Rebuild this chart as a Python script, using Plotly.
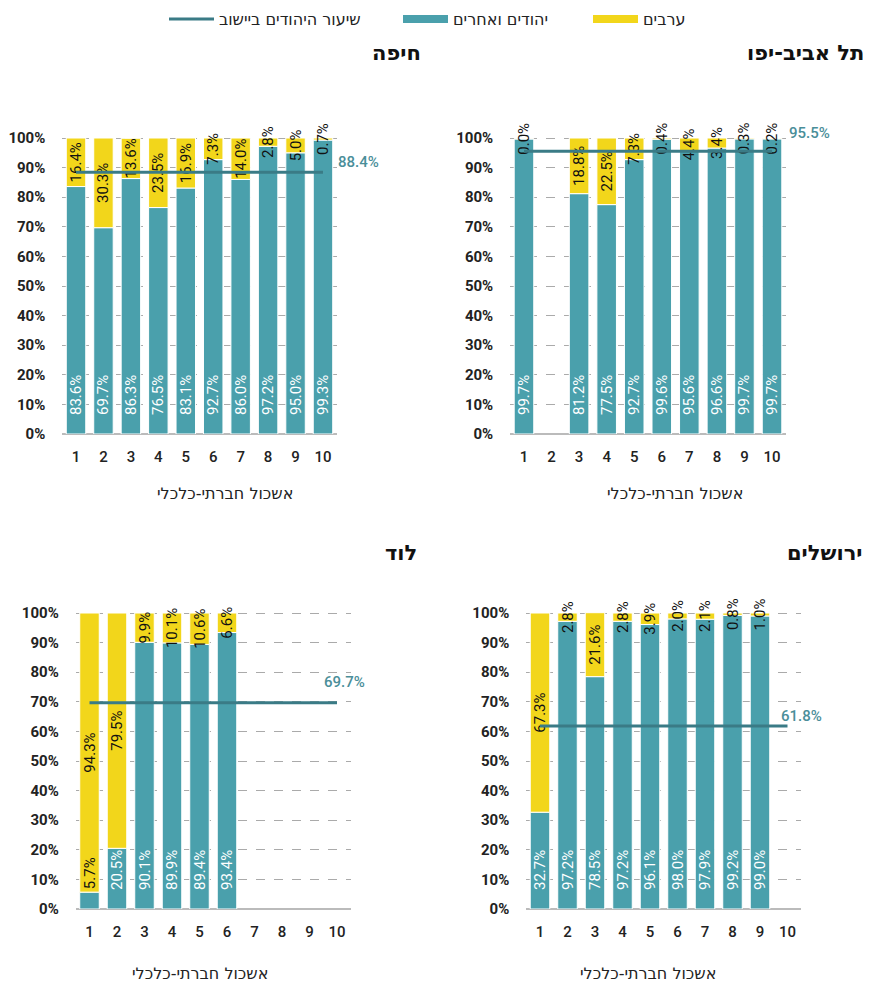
import plotly.graph_objects as go

W, H = 871, 985
OFF = 8  # page body margin offset of the rendered figure

clusters = [1, 2, 3, 4, 5, 6, 7, 8, 9, 10]

haifa_jews = [83.6, 69.7, 86.3, 76.5, 83.1, 92.7, 86.0, 97.2, 95.0, 99.3]
haifa_arabs = [16.4, 30.3, 13.6, 23.5, 16.9, 7.3, 14.0, 2.8, 5.0, 0.7]
haifa_avg = 88.4

telaviv_jews = [99.7, None, 81.2, 77.5, 92.7, 99.6, 95.6, 96.6, 99.7, 99.7]
telaviv_arabs = [0.04, None, 18.8, 22.5, 7.3, 0.4, 4.4, 3.4, 0.3, 0.2]
telaviv_avg = 95.5

lod_jews = [5.7, 20.5, 90.1, 89.9, 89.4, 93.4, None, None, None, None]
lod_arabs = [94.3, 79.5, 9.9, 10.1, 10.6, 6.6, None, None, None, None]
lod_avg = 69.7

jerusalem_jews = [32.7, 97.2, 78.5, 97.2, 96.1, 98.0, 97.9, 99.2, 99.0, None]
jerusalem_arabs = [67.3, 2.8, 21.6, 2.8, 3.9, 2.0, 2.1, 0.8, 1.0, None]
jerusalem_avg = 61.8

yticks = [0, 10, 20, 30, 40, 50, 60, 70, 80, 90, 100]
ytick_text = [f"{v}%" for v in yticks]

name_arabs = "ערבים"
name_jews = "יהודים ואחרים"
name_line = "שיעור היהודים ביישוב"
axis_title = "אשכול חברתי-כלכלי"

YELLOW = "#F2D61B"
TEAL = "#4AA0AC"
LINE = "#3A7B86"
LABEL = "#4A8E99"
FONT = "Roboto, 'DejaVu Sans', sans-serif"
HFONT = "'DejaVu Sans', sans-serif"

Y_MAX = 102          # axis headroom so full stacks keep their labels
LABEL_PAD = 5.4      # lift of the in-bar labels above the baseline (axis units)


def px_x(v):
    return (v - OFF) / W


def px_y(v):
    return 1 - (v - OFF) / H


def fmt(v):
    return None if v is None else f"{v:.1f}%"


panels = [
    ("חיפה", haifa_jews, haifa_arabs, haifa_avg, (62.3, 336.7), (138, 434), 423, 53, 225, 493, (13, 10)),
    ("תל אביב-יפו", telaviv_jews, telaviv_arabs, telaviv_avg, (510.2, 785.8), (138, 434), 866, 53, 675, 493, (15, 18)),
    ("לוד", lod_jews, lod_arabs, lod_avg, (75.75, 350.75), (613, 909), 419, 553, 200, 973, (-15, 21)),
    ("ירושלים", jerusalem_jews, jerusalem_arabs, jerusalem_avg, (526.25, 801.25), (613, 909), 864, 553, 648, 973, (-9, 10)),
]

fig = go.Figure()
layout = dict(
    width=W, height=H, autosize=False,
    margin=dict(l=0, r=0, t=0, b=0, autoexpand=False),
    paper_bgcolor="white", plot_bgcolor="white",
    barmode="overlay", bargap=0.29,
    font=dict(family=FONT, color="#222", size=14),
)
annotations = []

for i, (title, jews, arabs, avg, xdp, ydp, trx, try_, xtc, xty, (dx, dy)) in enumerate(panels):
    sfx = "" if i == 0 else str(i + 1)
    xa, ya = "x" + sfx, "y" + sfx
    zeros = [0 if v is not None else None for v in jews]
    arab_base = list(jews)
    inside = [v is not None and v >= 15 for v in jews]
    jew_pos = ["inside" if f else "outside" for f in inside]
    lab_base = [(LABEL_PAD if f else 0) if v is not None else None for v, f in zip(jews, inside)]
    lab_len = [(v - b) if v is not None else None for v, b in zip(jews, lab_base)]

    fig.add_trace(go.Bar(
        x=clusters, y=jews, base=zeros, xaxis=xa, yaxis=ya, name=name_jews, showlegend=False,
        marker=dict(color=TEAL, line=dict(color="white", width=1)),
    ))
    fig.add_trace(go.Bar(
        x=clusters, y=arabs, base=arab_base, xaxis=xa, yaxis=ya, name=name_arabs, showlegend=False,
        marker=dict(color=YELLOW, line=dict(color="white", width=1)),
    ))
    # transparent label carriers drawn above every bar
    fig.add_trace(go.Bar(
        x=clusters, y=lab_len, base=lab_base, xaxis=xa, yaxis=ya, showlegend=False,
        marker=dict(color="rgba(0,0,0,0)", line=dict(width=0)),
        text=[fmt(v) for v in jews], texttemplate="%{text}",
        textposition=jew_pos, insidetextanchor="start",
        textangle=-90, constraintext="none", cliponaxis=False,
        insidetextfont=dict(color="white", size=15, family=FONT),
        outsidetextfont=dict(color="#111", size=15, family=FONT),
        hoverinfo="skip",
    ))
    fig.add_trace(go.Bar(
        x=clusters, y=arabs, base=arab_base, xaxis=xa, yaxis=ya, showlegend=False,
        marker=dict(color="rgba(0,0,0,0)", line=dict(width=0)),
        text=[fmt(v) for v in arabs], texttemplate="%{text}",
        textposition="inside", insidetextanchor="middle",
        textangle=-90, constraintext="none", cliponaxis=False,
        insidetextfont=dict(color="#111", size=15, family=FONT),
        hoverinfo="skip",
    ))
    fig.add_trace(go.Scatter(
        x=[clusters[0], clusters[-1]], y=[avg, avg], xaxis=xa, yaxis=ya,
        mode="lines", line=dict(color=LINE, width=3), showlegend=False,
        name=name_line, cliponaxis=False,
    ))
    top_px = ydp[1] - (ydp[1] - ydp[0]) * Y_MAX / 100
    layout["xaxis" + sfx] = dict(
        domain=[px_x(xdp[0]), px_x(xdp[1])], anchor=ya, range=[0.5, 10.5],
        tickmode="array", tickvals=clusters, ticktext=[str(c) for c in clusters],
        showgrid=False, zeroline=False, showline=False, ticks="",
        ticklabelstandoff=12, tickfont=dict(size=15, color="#222", family=FONT, weight=500),
        fixedrange=True,
    )
    layout["yaxis" + sfx] = dict(
        domain=[px_y(ydp[1]), px_y(top_px)], anchor=xa, range=[0, Y_MAX],
        tickmode="array", tickvals=yticks, ticktext=ytick_text,
        showgrid=True, gridcolor="#AAAAAA", griddash="dash", gridwidth=1,
        zeroline=True, zerolinecolor="#BBBBBB", zerolinewidth=2,
        showline=False, ticks="", ticklabelstandoff=16,
        tickfont=dict(size=15, color="#222", family=FONT, weight="bold"),
        fixedrange=True,
    )
    annotations.append(dict(
        xref=xa, yref=ya, x=clusters[-1], y=avg, text=f"{avg:.1f}%",
        xanchor="left", yanchor="middle", xshift=dx, yshift=dy, showarrow=False,
        font=dict(size=15, color=LABEL, family=FONT, weight=500),
    ))
    annotations.append(dict(
        xref="paper", yref="paper", x=px_x(trx), y=px_y(try_), text=title,
        xanchor="right", yanchor="middle", showarrow=False,
        font=dict(size=21, color="#111", family=HFONT, weight="bold"),
    ))
    annotations.append(dict(
        xref="paper", yref="paper", x=px_x(xtc), y=px_y(xty), text=axis_title,
        xanchor="center", yanchor="middle", showarrow=False,
        font=dict(size=16, color="#222", family=HFONT),
    ))

legend_items = [
    (name_line, LINE, 3, "legend", 164),
    (name_jews, TEAL, 8, "legend2", 398),
    (name_arabs, YELLOW, 8, "legend3", 588),
]
for name, color, lw, leg, lx in legend_items:
    fig.add_trace(go.Scatter(
        x=[None], y=[None], mode="lines", line=dict(color=color, width=lw),
        name=name, legend=leg, showlegend=True,
    ))
    layout[leg] = dict(
        orientation="h", xref="container", yref="container",
        x=(lx - OFF) / W, y=1 - 11 / H, xanchor="left", yanchor="middle",
        itemwidth=45, bgcolor="rgba(0,0,0,0)", borderwidth=0,
        font=dict(size=16, color="#222", family=HFONT),
        itemclick=False, itemdoubleclick=False,
    )

layout["annotations"] = annotations
fig.update_layout(**layout)
fig.write_html("out.html")
